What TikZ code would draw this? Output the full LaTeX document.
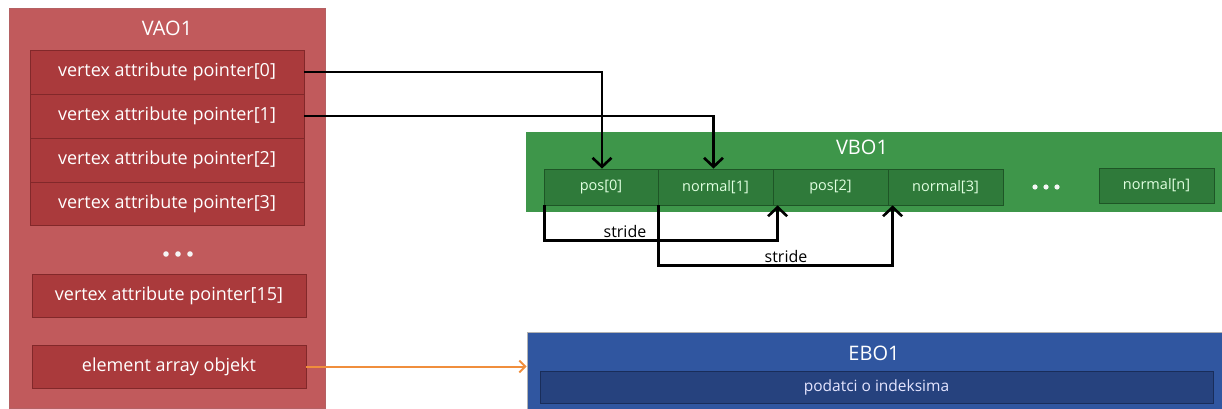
\documentclass[tikz,border=0pt]{standalone}
\usepackage{fontspec}
\setmainfont{Open Sans}
\usetikzlibrary{arrows.meta,calc}
\definecolor{vaoOut}{RGB}{193,90,92}
\definecolor{vaoIn}{RGB}{170,58,60}
\definecolor{vaoLine}{RGB}{130,40,42}
\definecolor{vboOut}{RGB}{62,150,74}
\definecolor{vboIn}{RGB}{47,122,58}
\definecolor{vboLine}{RGB}{30,85,38}
\definecolor{eboOut}{RGB}{48,86,160}
\definecolor{eboIn}{RGB}{38,66,126}
\definecolor{eboLine}{RGB}{25,45,90}
\definecolor{orng}{RGB}{240,142,60}
\tikzset{
  outerR/.style={fill=vaoOut, draw=vaoOut!80!gray, line width=0.8pt, inner sep=0pt},
  cellR/.style={fill=vaoIn, draw=vaoLine, line width=0.8pt, text=white, font=\fontsize{18}{21}\selectfont, minimum width=274pt, inner sep=0pt},
  outerG/.style={fill=vboOut, draw=none, inner sep=0pt},
  cellG/.style={fill=vboIn, draw=vboLine, line width=0.8pt, text=white!88!green, font=\fontsize{14.5}{17}\selectfont, inner sep=0pt, minimum height=36pt},
  outerB/.style={fill=eboOut, draw=gray!60, line width=0.6pt, inner sep=0pt},
  cellB/.style={fill=eboIn, draw=eboLine, line width=0.8pt, text=white!90!blue, font=\fontsize{15.5}{18}\selectfont, inner sep=0pt},
  titleT/.style={text=white, font=\fontsize{20}{24}\selectfont},
  dotP/.style={fill=white!92!gray},
  link/.style={line width=2.6pt, -{Straight Barb[length=9pt,width=19pt,line width=2.6pt]}},
  strideT/.style={text=black, font=\fontsize{16}{19}\selectfont},
}
\begin{document}
\begin{tikzpicture}[x=1pt,y=-1pt]
\useasboundingbox (0,0) rectangle (1222,409);
% VAO
\node[outerR, minimum width=316pt, minimum height=400pt] (vao) at (167,208) {};
\node[titleT] (vaot) at (167,28) {VAO1};
\node[cellR, minimum height=44pt] (vap0) at (167,72) {vertex attribute pointer[0]};
\node[cellR, minimum height=44pt] (vap1) at (167,116) {vertex attribute pointer[1]};
\node[cellR, minimum height=44pt] (vap2) at (167,160) {vertex attribute pointer[2]};
\node[cellR, minimum height=43pt] (vap3) at (167,203.5) {vertex attribute pointer[3]};
\foreach \dx in {-12,0,12} \fill[dotP] (178+\dx,254) circle (2.8);
\node[cellR, minimum height=43pt] (vap15) at (169,295.5) {vertex attribute pointer[15]};
\node[cellR, minimum height=43pt] (elem) at (169,366.5) {element array objekt};
% VBO
\node[outerG, minimum width=696pt, minimum height=80pt] (vbo) at (874,172) {};
\node[titleT] (vbot) at (862,147) {VBO1};
\node[cellG, minimum width=114pt] (pos0) at (601,187) {pos[0]};
\node[cellG, minimum width=115pt] (nor1) at (715.5,187) {normal[1]};
\node[cellG, minimum width=115pt] (pos2) at (830.5,187) {pos[2]};
\node[cellG, minimum width=115pt] (nor3) at (945.5,187) {normal[3]};
\foreach \dx in {-11,0,11} \fill[dotP] (1046+\dx,187) circle (2.6);
\node[cellG, minimum width=115pt, minimum height=35pt] (norn) at (1156.5,185.5) {normal[n]};
% EBO
\node[outerB, minimum width=695pt, minimum height=77pt] (ebo) at (874.5,370.5) {};
\node[titleT] (ebot) at (874,353) {EBO1};
\node[cellB, minimum width=673pt, minimum height=32pt] (idx) at (876.5,387) {podatci o indeksima};
% connectors
\draw[link] (vap0.east) -| ([xshift=1pt]pos0.north);
\draw[link] (vap1.east) -| ([xshift=-2pt]nor1.north);
\draw[link] ([xshift=1pt]pos0.south west) -- ++(0,35) -| ([xshift=5pt]pos2.south west);
\draw[link] ([xshift=1pt]nor1.south west) -- ++(0,60) -| ([xshift=5pt]nor3.south west);
\node[strideT] (s1) at (625,231) {stride};
\node[strideT] (s2) at (786,256) {stride};
\draw[orng, line width=2pt, -{Straight Barb[length=6pt,width=12pt,line width=2pt]}] (elem.east) -- (elem.east -| ebo.west);
\end{tikzpicture}
\end{document}
